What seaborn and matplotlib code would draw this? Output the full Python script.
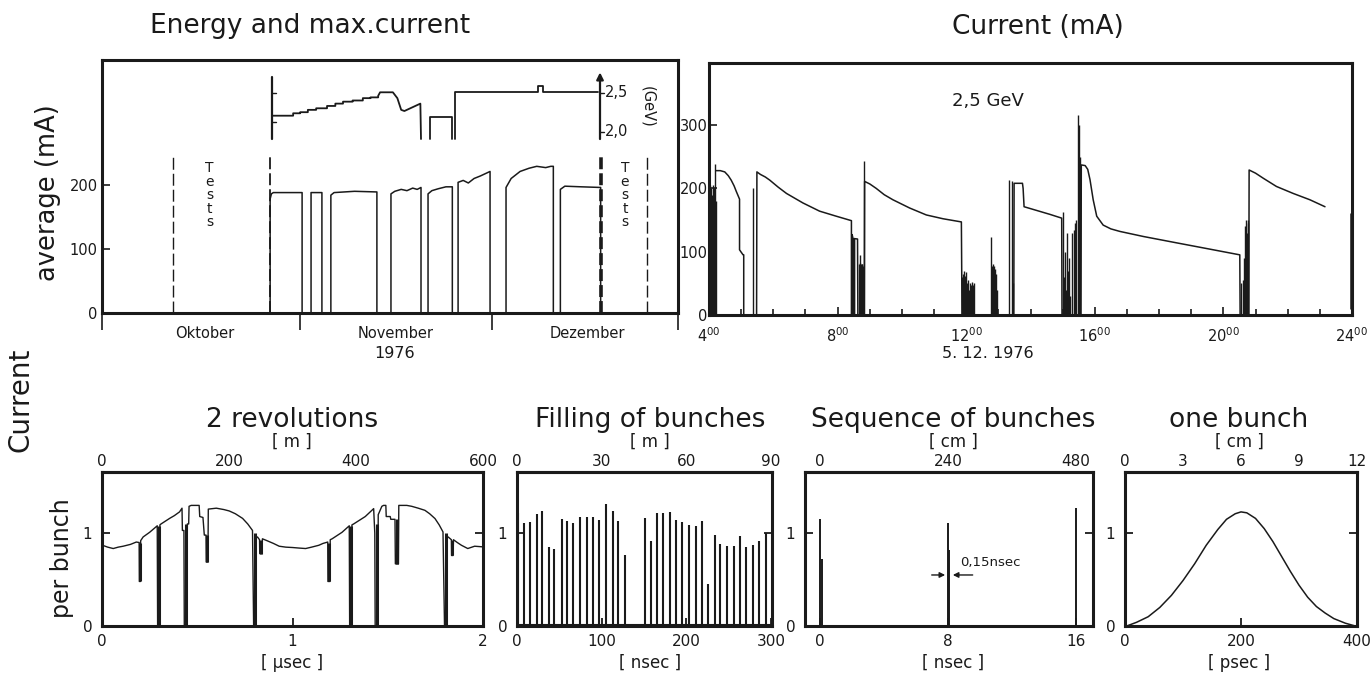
import matplotlib
matplotlib.use("Agg")
import matplotlib.pyplot as plt
import seaborn as sns
import pandas as pd

W, H = 1371, 681

# ---------------- top left: Oct - Dec 1976 (x = days since 1 Oct) ----------------
avg_day = [0.0, 26.3, 26.3, 26.5, 26.8, 31.3, 31.3,
           32.7, 32.7, 34.4, 34.4,
           35.8, 35.8, 36.3, 39.5, 43.0, 43.0,
           45.2, 45.2, 45.8, 46.8, 47.7, 48.6, 49.3, 49.9, 49.9,
           51.0, 51.0, 51.6, 52.6, 53.8, 54.8, 54.8,
           55.7, 55.7, 56.5, 57.3, 58.2, 59.2, 60.7, 60.7,
           63.2, 63.2, 64.0, 65.4, 66.8, 68.0, 69.4, 70.2, 70.6, 70.6,
           71.7, 71.7, 72.4, 75.0, 78.0, 78.0, 90.1]
avg_ma = [0, 0, 178, 186, 188, 188, 0,
          0, 188, 188, 0,
          0, 184, 188, 190, 189, 0,
          0, 186, 190, 193, 191, 195, 193, 196, 0,
          0, 186, 191, 194, 197, 197, 0,
          0, 204, 207, 203, 210, 214, 221, 0,
          0, 196, 210, 221, 226, 229, 227, 229, 229, 0,
          0, 193, 198, 197, 196, 0, 0]
test_day = [11.1, 26.3, 78.1, 85.3]
test_lw = [1.0, 1.3, 2.6, 1.0]
tests_text_day = [16.8, 81.8]
month_edges = [0, 31, 61, 90.1]
month_mid = [16.1, 45.9, 75.9]
month_names = ["Oktober", "November", "Dezember"]

# beam energy (GeV), drawn on the same days
en_day = [26.6, 29.9, 29.9, 31.0, 31.0, 32.2, 32.2, 33.5, 33.5, 35.2, 35.2, 36.5, 36.5, 37.7, 37.7,
          39.2, 39.2, 40.8, 40.8, 42.0, 42.0, 43.2, 43.2, 43.5, 45.5, 46.2, 46.8, 47.3, 49.8, 49.9,
          51.3, 51.3, 54.8, 54.8,
          55.2, 55.2, 68.2, 68.2, 69.0, 69.0, 77.6]
en_gev = [2.205, 2.205, 2.236, 2.236, 2.25, 2.25, 2.28, 2.28, 2.30, 2.30, 2.33, 2.33, 2.36, 2.36, 2.385,
          2.385, 2.40, 2.40, 2.43, 2.43, 2.44, 2.44, 2.46, 2.505, 2.505, 2.43, 2.28, 2.265, 2.36, 1.906,
          1.906, 2.19, 2.19, 1.906,
          1.906, 2.505, 2.505, 2.59, 2.59, 2.505, 2.505]
en_seg = [0] * 30 + [1] * 4 + [2] * 7
energy_ticks = [2.5, 2.0]
energy_labels = ["2,5", "2,0"]

# ---------------- top right: current on 5.12.1976 (x = hour) ----------------
day_hr = [4.22, 4.35, 4.49, 4.60, 4.69, 4.78, 4.85, 4.95, 4.95, 4.99, 5.06, 5.08, 5.08,
          5.48, 5.49, 5.60, 5.75, 5.89, 6.15, 6.41, 6.92, 7.44, 7.96, 8.43, 8.43,
          8.44, 8.45, 8.47, 8.62, 8.63,
          8.83, 8.84, 9.00, 9.20, 9.45, 9.72, 10.24, 10.76, 11.28, 11.85, 11.87,
          13.48, 13.49, 13.75, 13.77, 13.80, 14.20, 14.60, 14.97, 14.98,
          15.57, 15.58, 15.70, 15.78, 15.85, 15.95, 16.06, 16.26, 16.50, 16.78, 17.51, 18.54, 19.58, 20.51, 20.52,
          20.79, 20.80, 21.00, 21.24, 21.65, 22.17, 22.69, 23.16,
          23.96, 23.96]
day_ma = [228, 228, 226, 220, 213, 204, 195, 183, 103, 100, 95, 95, 0,
          0, 226, 222, 218, 213, 202, 192, 177, 164, 156, 149, 0,
          0, 127, 121, 120, 0,
          0, 211, 207, 200, 190, 182, 169, 158, 152, 147, 0,
          0, 208, 208, 200, 171, 165, 159, 153, 0,
          0, 237, 236, 230, 214, 182, 156, 142, 136, 132, 124, 114, 104, 95, 0,
          0, 229, 224, 216, 203, 192, 182, 171,
          10, 160]
day_seg = [0] * 13 + [1] * 12 + [2] * 5 + [3] * 11 + [4] * 9 + [5] * 15 + [6] * 8 + [7] * 2
spike_hr = [4.005, 4.02, 4.035, 4.05, 4.065, 4.08, 4.095, 4.11, 4.125, 4.14, 4.155, 4.17, 4.19, 4.205,
            5.37,
            8.45, 8.465, 8.48, 8.495, 8.51,
            8.67, 8.685, 8.70, 8.715, 8.73, 8.745, 8.76, 8.775, 8.79, 8.82,
            11.86, 11.875, 11.89, 11.905, 11.92, 11.935, 11.95, 11.965, 11.98, 12.00, 12.02, 12.05, 12.08, 12.11, 12.14, 12.17, 12.20, 12.23,
            12.78, 12.80, 12.82, 12.84, 12.86, 12.88, 12.90, 12.92, 12.95,
            13.32, 13.42, 13.45,
            15.02, 15.05, 15.08, 15.10, 15.13, 15.16, 15.19, 15.22, 15.30, 15.34, 15.38, 15.42, 15.49, 15.51, 15.53,
            20.55, 20.60, 20.63, 20.66, 20.69, 20.72, 20.75, 20.78]
spike_ma = [250, 195, 205, 185, 200, 190, 180, 205, 185, 200, 190, 200, 238, 180,
            200,
            127, 122, 122, 121, 121,
            80, 95, 82, 80, 78, 80, 80, 78, 76, 244,
            60, 55, 65, 58, 70, 50, 62, 55, 45, 68, 50, 55, 40, 50, 48, 52, 48, 50,
            123, 78, 80, 75, 78, 70, 72, 65, 40,
            213, 212, 50,
            163, 60, 100, 40, 130, 70, 90, 30, 130, 135, 145, 150, 316, 300, 250,
            50, 55, 90, 140, 150, 130, 145, 150]
hour_ticks = [4, 8, 12, 16, 20, 24]

# ---------------- bottom: current per bunch ----------------
rev_pts = [(0.003, 0.87), (0.03, 0.85), (0.059, 0.835), (0.085, 0.85), (0.111, 0.86), (0.15, 0.88),
           (0.18, 0.905), (0.195, 0.90), (0.196, 0.48), (0.202, 0.48), (0.203, 0.92), (0.216, 0.96),
           (0.25, 1.01), (0.29, 1.08), (0.292, 0.0), (0.302, 0.0), (0.304, 1.09), (0.31, 1.10),
           (0.355, 1.16), (0.38, 1.19), (0.407, 1.23), (0.42, 1.27), (0.422, 1.03), (0.43, 1.03),
           (0.432, 0.0), (0.446, 0.0), (0.448, 1.10), (0.455, 1.10), (0.457, 1.29), (0.468, 1.30),
           (0.51, 1.30), (0.513, 1.18), (0.53, 1.17), (0.537, 0.98), (0.546, 0.98), (0.547, 0.69),
           (0.556, 0.69), (0.558, 1.26), (0.60, 1.27), (0.64, 1.255), (0.668, 1.24), (0.70, 1.21),
           (0.738, 1.16), (0.765, 1.10), (0.79, 1.03), (0.796, 0.0), (0.806, 0.0), (0.808, 0.95),
           (0.816, 0.96), (0.827, 0.93), (0.828, 0.78), (0.84, 0.78), (0.842, 0.94), (0.86, 0.925),
           (0.90, 0.89), (0.93, 0.86), (0.965, 0.85), (1.0, 0.846), (1.035, 0.84), (1.069, 0.835),
           (1.10, 0.85), (1.138, 0.87), (1.16, 0.89), (1.185, 0.905), (1.186, 0.48), (1.197, 0.48),
           (1.198, 0.93), (1.208, 0.94), (1.26, 1.01), (1.298, 1.08), (1.30, 0.0), (1.31, 0.0),
           (1.312, 1.09), (1.321, 1.10), (1.382, 1.18), (1.426, 1.265), (1.432, 1.0), (1.434, 0.0),
           (1.448, 0.0), (1.45, 1.2), (1.469, 1.29), (1.478, 1.30), (1.49, 1.30), (1.492, 1.18),
           (1.513, 1.18), (1.516, 1.15), (1.538, 1.15), (1.54, 0.67), (1.556, 0.67), (1.558, 1.30),
           (1.60, 1.30), (1.626, 1.29), (1.66, 1.27), (1.695, 1.247), (1.72, 1.21), (1.748, 1.158),
           (1.77, 1.09), (1.79, 1.014), (1.798, 0.0), (1.81, 0.0), (1.812, 0.95), (1.817, 0.96),
           (1.834, 0.93), (1.835, 0.76), (1.843, 0.76), (1.845, 0.93), (1.865, 0.90), (1.887, 0.87),
           (1.92, 0.835), (1.956, 0.86), (2.0, 0.853)]
rev_dip_us = [0.199, 0.297, 0.439, 0.551, 0.801, 0.834, 1.191, 1.305, 1.441, 1.548, 1.804, 1.839]
rev_dip_lo = [0.48, 0, 0, 0.69, 0, 0.78, 0.48, 0, 0, 0.67, 0, 0.76]
rev_dip_hi = [0.90, 1.08, 1.10, 0.98, 1.0, 0.93, 0.90, 1.08, 1.10, 1.15, 1.0, 0.93]

fill_ns = [0.8, 8.6, 14.9, 23.5, 29.8, 37.2, 43.9, 53.3, 59.6, 66.6, 74.5, 82.3, 90.2, 97.2, 104.7,
           112.9, 119.6, 127.8, 150.5, 158.0, 165.8, 172.5, 180.3, 187.4, 194.8, 202.7, 210.9,
           218.7, 225.4, 233.2, 239.9, 247.7, 255.6, 263.4, 270.5, 278.3, 286.2, 294.0]
fill_h = [1.22, 1.11, 1.12, 1.21, 1.24, 0.85, 0.835, 1.15, 1.13, 1.11, 1.18, 1.18, 1.18, 1.14, 1.31,
          1.24, 1.13, 0.76, 1.16, 0.92, 1.22, 1.22, 1.23, 1.14, 1.12, 1.09, 1.08,
          1.13, 0.45, 0.98, 0.88, 0.86, 0.86, 0.97, 0.85, 0.87, 0.92, 1.00]

seq_ns = [0.0, 0.1, 8.0, 8.08, 16.0]
seq_h = [1.15, 0.72, 1.11, 0.82, 1.27]

bunch_ps = [3, 20, 40, 60, 80, 100, 120, 140, 160, 175, 190, 200, 210, 225, 240, 255, 270,
            285, 300, 315, 330, 345, 360, 380, 397]
bunch_val = [0.0, 0.04, 0.10, 0.20, 0.33, 0.49, 0.67, 0.87, 1.04, 1.15, 1.21, 1.23, 1.22, 1.16,
             1.05, 0.91, 0.75, 0.59, 0.44, 0.31, 0.21, 0.14, 0.08, 0.03, 0.0]

# ---------------------------------------------------------------------------
sns.set_theme(style="white")
plt.rcParams["font.family"] = ["DejaVu Sans"]
plt.rcParams["mathtext.default"] = "regular"
plt.rcParams.update({"text.color": "k", "xtick.color": "k", "ytick.color": "k",
                     "axes.labelcolor": "k"})

fig = plt.figure(figsize=(W / 100, H / 100), dpi=100)
fig.patch.set_facecolor("white")


def fbox(x0, y0, x1, y1):
    # pixel box (top-left origin) -> figure fraction rect
    return [x0 / W, 1 - y1 / H, (x1 - x0) / W, (y1 - y0) / H]


def ftext(x, y, s, **kw):
    fig.text(x / W, 1 - y / H, s, ha="center", va="center", color="k", **kw)


def trace(ax, x, y, units=None, lw=1.1):
    df = pd.DataFrame({"x": x, "y": y, "u": units if units is not None else [0] * len(x)})
    sns.lineplot(data=df, x="x", y="y", units="u", estimator=None, sort=False,
                 color="k", lw=lw, legend=False, ax=ax)
    ax.set_xlabel("")
    ax.set_ylabel("")


def frame(ax, lw=2.2):
    for sp in ax.spines.values():
        sp.set_visible(True)
        sp.set_color("k")
        sp.set_linewidth(lw)


# ---- top left ----
ax1 = fig.add_axes(fbox(102, 60, 678, 313))
trace(ax1, avg_day, avg_ma)
for d, w in zip(test_day, test_lw):
    ax1.plot([d, d], [0, 247], color="k", lw=w, ls=(0, (8.6 / w, 2.9 / w)))
for d in tests_text_day:
    ax1.text(d, 184, "T\ne\ns\nt\ns", ha="center", va="center", fontsize=10, linespacing=0.95)

ax1e = ax1.twinx()
trace(ax1e, en_day, en_gev, units=en_seg, lw=1.3)
ax1e.plot([26.55, 26.55], [1.906, 2.70], color="k", lw=1.6)
for e in [2.5, 2.12]:
    ax1e.plot([26.55, 27.2], [e, e], color="k", lw=1.0)
ax1e.annotate("", xy=(77.9, 2.76), xytext=(77.9, 1.906),
              arrowprops=dict(arrowstyle="-|>", color="k", lw=1.6, mutation_scale=10,
                              shrinkA=0, shrinkB=0))
for e, lab in zip(energy_ticks, energy_labels):
    ax1e.plot([77.9, 78.5], [e, e], color="k", lw=1.0)
    ax1e.text(78.6, e, lab, va="center", ha="left", fontsize=10.5)
ax1e.text(85.3, 2.317, "(GeV)", rotation=-90, ha="center", va="center", fontsize=10.5)
ax1e.set_ylim(-0.324, 2.919)
ax1e.axis("off")

ax1.set_xlim(0, 90.1)
ax1.set_ylim(0, 395)
ax1.set_yticks([0, 100, 200])
ax1.tick_params(axis="y", direction="in", length=6, width=1.2, labelsize=10.5, pad=3, left=True)
ax1.set_xticks(month_edges)
ax1.set_xticklabels([])
ax1.tick_params(axis="x", which="major", direction="out", length=12, width=1.2, bottom=True)
ax1.set_xticks(month_mid, minor=True)
ax1.set_xticklabels(month_names, minor=True)
ax1.tick_params(axis="x", which="minor", length=0, pad=9, labelsize=10.5)
frame(ax1)

# ---- top right ----
ax2 = fig.add_axes(fbox(709, 63, 1352, 315))
trace(ax2, day_hr, day_ma, units=day_seg)
ax2.vlines(spike_hr, 0, spike_ma, color="k", lw=1.0)
ax2.set_xlim(4, 24)
ax2.set_ylim(0, 398)
ax2.set_yticks([0, 100, 200, 300])
ax2.set_xticks(hour_ticks, [f"{h}$^{{00}}$" for h in hour_ticks])
ax2.set_xticks(range(5, 24), minor=True)
ax2.tick_params(which="both", direction="in", width=1.2, bottom=True, left=True)
ax2.tick_params(which="major", length=6, labelsize=10.5)
ax2.tick_params(which="minor", length=4)
ax2.tick_params(axis="x", pad=8)
ax2.tick_params(axis="y", pad=1)
frame(ax2)


# ---- bottom panels ----
def finish_panel(ax, xlim, ticks, top_scale, top_ticks, title, top_unit, bot_unit, cx):
    ax.set_xlim(*xlim)
    ax.set_ylim(0, 1.66)
    ax.set_yticks([0, 1], ["0", "1"])
    ax.set_xticks(ticks, [f"{t:g}" for t in ticks])
    ax.tick_params(direction="in", length=6, width=1.3, labelsize=11,
                   left=True, right=True, bottom=True)
    ax.tick_params(axis="x", pad=6)
    ax.tick_params(axis="y", pad=7)
    sec = ax.secondary_xaxis("top", functions=(lambda v: v * top_scale, lambda v: v / top_scale))
    sec.set_xticks(top_ticks, [f"{t:g}" for t in top_ticks])
    sec.tick_params(length=0, pad=2, labelsize=11)
    sec.spines["top"].set_linewidth(2.2)
    frame(ax)
    ftext(cx, 420, title, fontsize=19)
    ftext(cx, 442, top_unit, fontsize=12)
    ftext(cx, 663, bot_unit, fontsize=12)


# 2 revolutions
b1 = fig.add_axes(fbox(102, 472, 483, 626))
trace(b1, [p[0] for p in rev_pts], [p[1] for p in rev_pts], lw=1.0)
b1.vlines(rev_dip_us, rev_dip_lo, rev_dip_hi, color="k", lw=2.2)
finish_panel(b1, (0, 2), [0, 1, 2], 300, [0, 200, 400, 600],
             "2 revolutions", "[ m ]", "[ μsec ]", 292)

# filling of bunches
b2 = fig.add_axes(fbox(517, 472, 772, 626))
b2.vlines(fill_ns, 0, fill_h, color="k", lw=1.5)
b2.axhline(0.01, color="k", lw=1.5)
finish_panel(b2, (0, 301), [0, 100, 200, 300], 0.3, [0, 30, 60, 90],
             "Filling of bunches", "[ m ]", "[ nsec ]", 650)

# sequence of bunches
b3 = fig.add_axes(fbox(805, 472, 1093, 626))
b3.vlines(seq_ns, 0, seq_h, color="k", lw=1.4)
b3.annotate("", xy=(7.82, 0.55), xytext=(6.98, 0.55),
            arrowprops=dict(arrowstyle="-|>", color="k", lw=1.0, mutation_scale=8, shrinkA=0, shrinkB=0))
b3.annotate("", xy=(8.3, 0.55), xytext=(9.54, 0.55),
            arrowprops=dict(arrowstyle="-|>", color="k", lw=1.0, mutation_scale=8, shrinkA=0, shrinkB=0))
b3.text(8.75, 0.68, "0,15nsec", ha="left", va="center", fontsize=9.5)
finish_panel(b3, (-0.94, 17.06), [0, 8, 16], 30, [0, 240, 480],
             "Sequence of bunches", "[ cm ]", "[ nsec ]", 953)

# one bunch
b4 = fig.add_axes(fbox(1125, 472, 1357, 626))
trace(b4, bunch_ps, bunch_val, lw=1.1)
finish_panel(b4, (0, 400), [0, 200, 400], 0.03, [0, 3, 6, 9, 12],
             "one bunch", "[ cm ]", "[ psec ]", 1239)

# ---- figure texts ----
ftext(310, 26, "Energy and max.current", fontsize=19)
ftext(1038, 27, "Current (mA)", fontsize=19)
ftext(395, 353, "1976", fontsize=11.5)
ftext(988, 353, "5. 12. 1976", fontsize=11.5)
ftext(988, 101, "2,5 GeV", fontsize=13)
ftext(48, 193, "average (mA)", rotation=90, fontsize=18.5)
ftext(21, 400, "Current", rotation=90, fontsize=20)
ftext(62, 558, "per bunch", rotation=90, fontsize=17)

fig.savefig("out.png", dpi=100, facecolor="white")
